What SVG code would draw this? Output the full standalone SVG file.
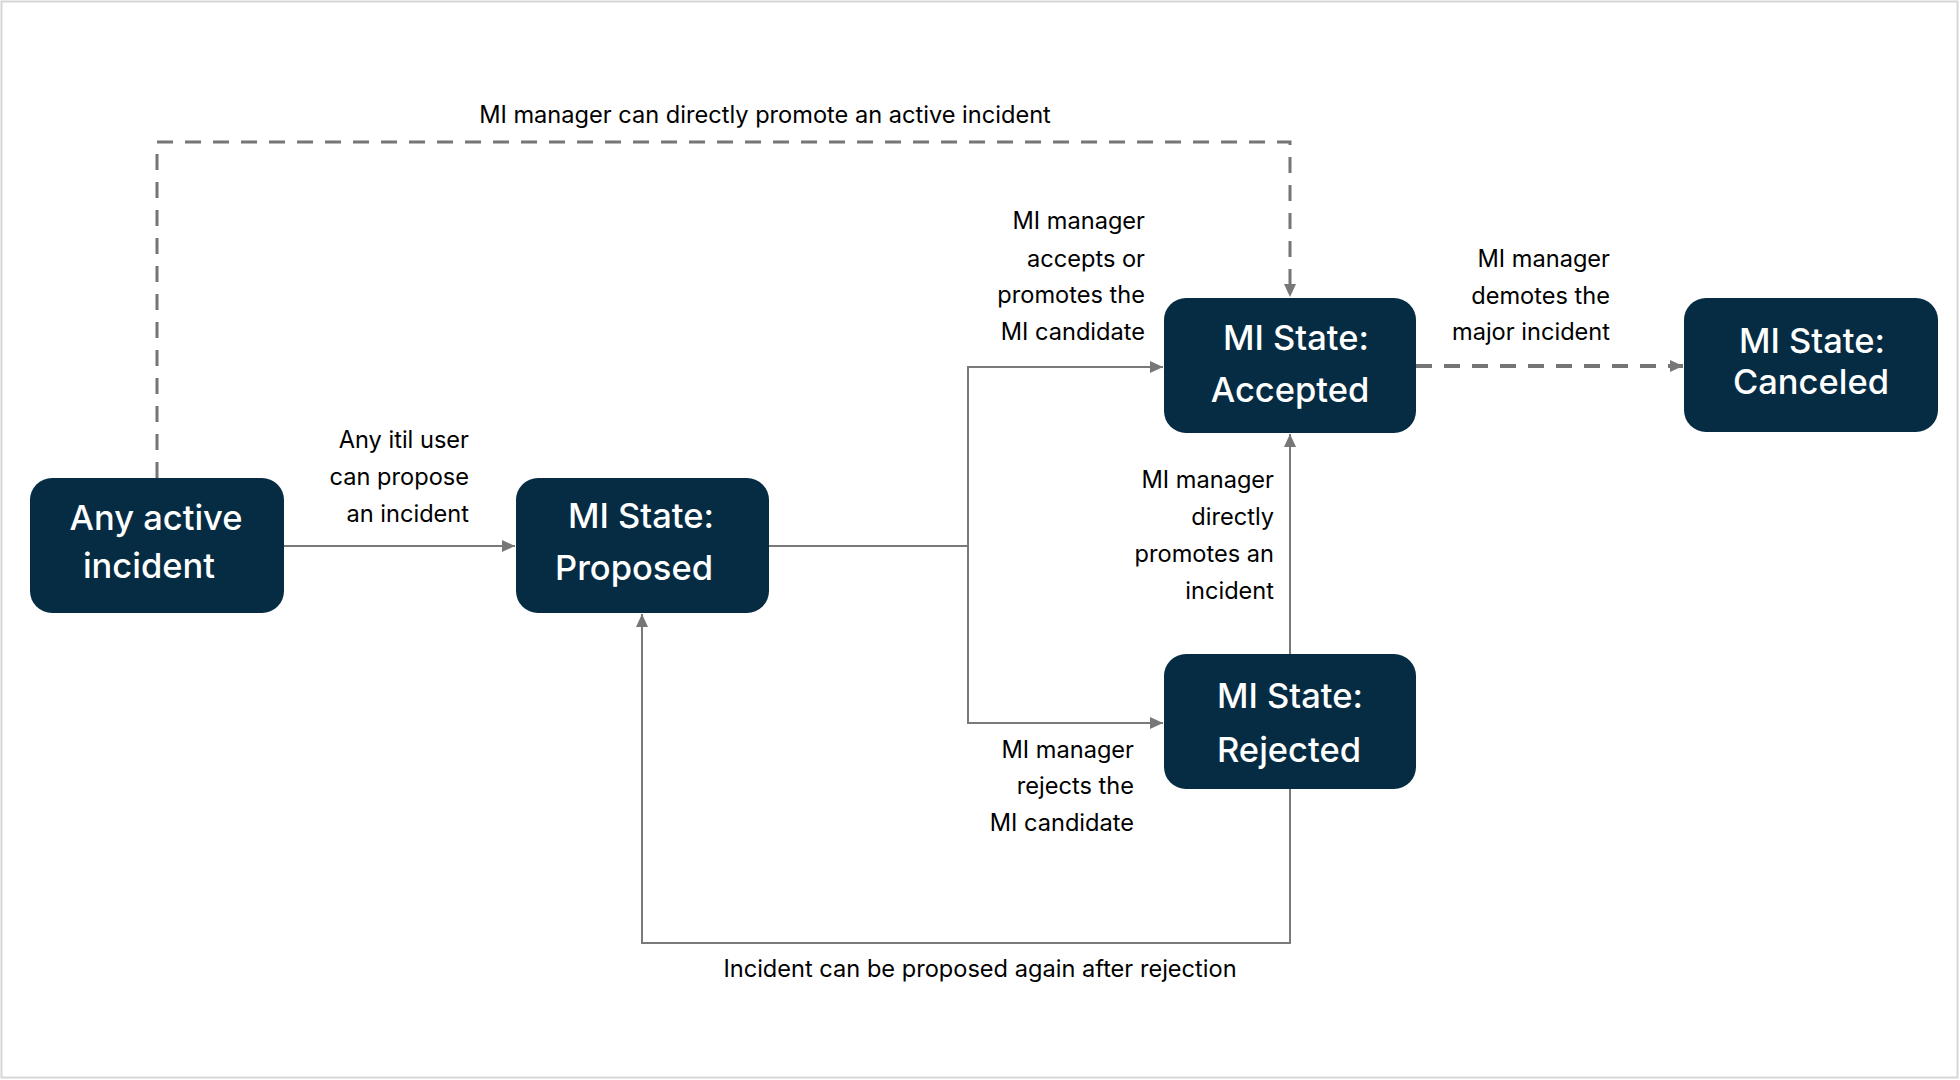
<svg xmlns="http://www.w3.org/2000/svg" width="1960" height="1080" viewBox="0 0 1960 1080">
<style>
.node rect{fill:#052c43}
.title{font-family:Inter,"Liberation Sans",sans-serif;font-size:34.5px;fill:#ffffff;text-anchor:middle;font-weight:500}
.lbl{font-family:Inter,"Liberation Sans",sans-serif;font-size:23.6px;fill:#000000;text-anchor:end;paint-order:stroke;stroke:#ffffff;stroke-width:5px;stroke-linejoin:round}
.mid{text-anchor:middle}
.conn{fill:none;stroke:#7a7a7a;stroke-width:2}
.dash{fill:none;stroke:#757575;stroke-width:3;stroke-dasharray:16 12}
.dash4{fill:none;stroke:#757575;stroke-width:4;stroke-dasharray:16 12}
</style>
<defs>
<marker id="arr" markerUnits="userSpaceOnUse" markerWidth="14" markerHeight="12" refX="13" refY="6" orient="auto">
<path d="M0,0 L13,6 L0,12 z" fill="#777777"/>
</marker>
</defs>
<rect x="0" y="0" width="1960" height="1080" fill="#ffffff"/>
<rect x="1.5" y="1.5" width="1956" height="1076" fill="none" stroke="#d6d6d6" stroke-width="2"/>

<g id="connectors">
<path class="conn" d="M284,546 H515" marker-end="url(#arr)"/>
<path class="conn" d="M769,546 H968"/>
<path class="conn" d="M968,546 V367 H1163" marker-end="url(#arr)"/>
<path class="conn" d="M968,546 V723 H1163" marker-end="url(#arr)"/>
<path class="conn" d="M1290,654 V434" marker-end="url(#arr)"/>
<path class="conn" d="M1290,789 V943 H642 V614" marker-end="url(#arr)"/>
<path class="dash4" d="M1416,366 H1683" marker-end="url(#arr)"/>
<path class="dash" d="M157,478 V142 H1290 V297" marker-end="url(#arr)"/>
</g>

<g id="labels">
<text class="lbl mid" x="765" y="123">MI manager can directly promote an active incident</text>
<text class="lbl" x="469" y="448">Any itil user</text>
<text class="lbl" x="469" y="485">can propose</text>
<text class="lbl" x="469" y="522">an incident</text>
<text class="lbl" x="1145" y="229">MI manager</text>
<text class="lbl" x="1145" y="267">accepts or</text>
<text class="lbl" x="1145" y="303">promotes the</text>
<text class="lbl" x="1145" y="340">MI candidate</text>
<text class="lbl" x="1610" y="267">MI manager</text>
<text class="lbl" x="1610" y="304">demotes the</text>
<text class="lbl" x="1610" y="340">major incident</text>
<text class="lbl" x="1274" y="488">MI manager</text>
<text class="lbl" x="1274" y="525">directly</text>
<text class="lbl" x="1274" y="562">promotes an</text>
<text class="lbl" x="1274" y="599">incident</text>
<text class="lbl" x="1134" y="758">MI manager</text>
<text class="lbl" x="1134" y="794">rejects the</text>
<text class="lbl" x="1134" y="831">MI candidate</text>
<text class="lbl mid" x="980" y="977">Incident can be proposed again after rejection</text>
</g>

<g id="node-any" class="node">
<rect x="30" y="478" width="254" height="135" rx="22"/>
<text class="title" x="156" y="530">Any active</text>
<text class="title" x="149" y="578">incident</text>
</g>
<g id="node-proposed" class="node">
<rect x="516" y="478" width="253" height="135" rx="22"/>
<text class="title" x="641" y="528">MI State:</text>
<text class="title" x="634" y="580">Proposed</text>
</g>
<g id="node-accepted" class="node">
<rect x="1164" y="298" width="252" height="135" rx="22"/>
<text class="title" x="1296" y="350">MI State:</text>
<text class="title" x="1290" y="402">Accepted</text>
</g>
<g id="node-rejected" class="node">
<rect x="1164" y="654" width="252" height="135" rx="22"/>
<text class="title" x="1290" y="708">MI State:</text>
<text class="title" x="1289" y="762">Rejected</text>
</g>
<g id="node-canceled" class="node">
<rect x="1684" y="298" width="254" height="134" rx="22"/>
<text class="title" x="1812" y="353">MI State:</text>
<text class="title" x="1811" y="394">Canceled</text>
</g>
</svg>
